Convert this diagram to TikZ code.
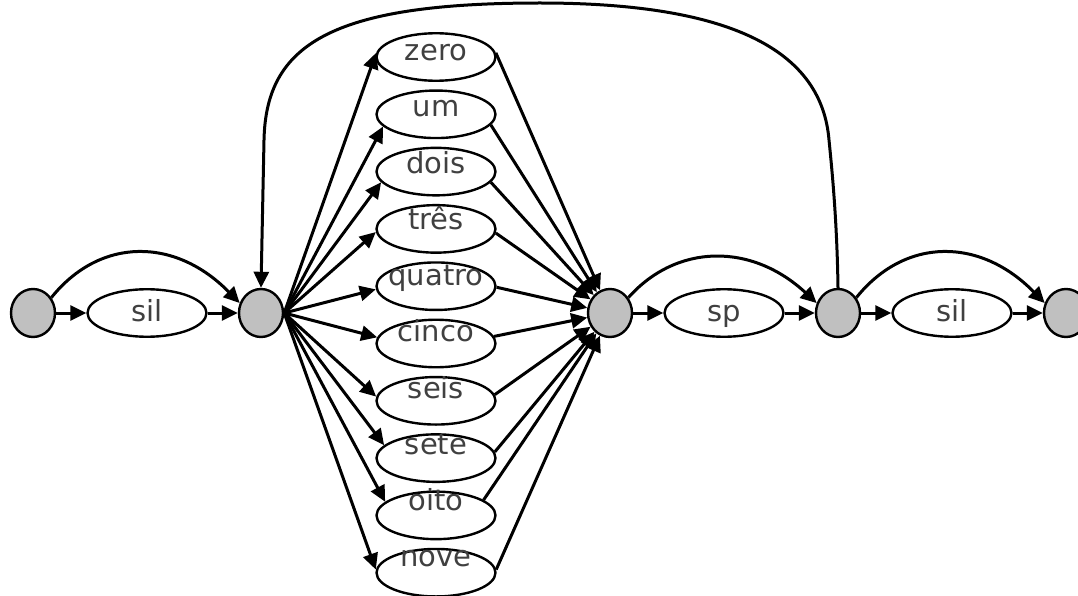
\documentclass[tikz,border=0pt]{standalone}
\usepackage{fontspec}
\setmainfont{DejaVu Sans}
\usetikzlibrary{arrows.meta,shapes.geometric}
\definecolor{txtgray}{RGB}{64,64,64}
\definecolor{nodegray}{RGB}{192,192,192}
\begin{document}
\begin{tikzpicture}[x=1pt,y=-1pt,
  state/.style={ellipse, draw, line width=2.4pt, fill=nodegray, minimum width=44pt, minimum height=48pt, inner sep=0pt},
  word/.style={ellipse, draw, line width=2.4pt, fill=white, minimum width=119pt, minimum height=47.5pt, inner sep=0pt},
  lbl/.style={anchor=base, inner sep=0pt, text=txtgray, font=\fontsize{29}{34}\selectfont},
  edge/.style={line width=3pt, -{Triangle[length=16pt,width=15pt]}}]
\useasboundingbox (0,0) rectangle (1078,596);
% states
\node[state] (c1) at (33,313) {};
\node[state] (c2) at (261,313) {};
\node[state] (c3) at (610,313) {};
\node[state] (c4) at (838,313) {};
\node[state] (c5) at (1066,313) {};
% sil / sp
\node[word] (s1) at (147,313) {};
\node[lbl] (ts1) at (147,321) {sil};
\node[word] (sp) at (724,313) {};
\node[lbl] (tsp) at (724,321) {sp};
\node[word] (s2) at (952,313) {};
\node[lbl] (ts2) at (952,321) {sil};
% straight edges
\draw[edge] (c1) -- (s1);
\draw[edge] (s1) -- (c2);
\draw[edge] (c3) -- (sp);
\draw[edge] (sp) -- (c4);
\draw[edge] (c4) -- (s2);
\draw[edge] (s2) -- (c5);
% skip arcs
\draw[edge] (c1.40) .. controls (100,237) and (175,237) .. (c2.155);
\draw[edge] (c3.40) .. controls (677,243) and (752,243) .. (c4.155);
\draw[edge] (c4.40) .. controls (905,237) and (980,237) .. (c5.155);
% words
\foreach \i/\w/\la/\ra in {0/zero/176/4,1/um/193/349,2/dois/191/349,3/três/183/356,4/quatro/183/359,5/cinco/174/7,6/seis/176/6,7/sete/166/6,8/oito/165/18,9/nove/177/3}{
  \node[word] (w\i) at (436,{57+57.3*\i}) {};
  \node[lbl] (t\i) at (436,{60.7+56.25*\i}) {\w};
  \draw[edge] (c2.east) -- (w\i.\la);
  \draw[edge] (w\i.\ra) -- (c3);
}
% loop back
\coordinate (lp1) at (829,140);
\coordinate (lp2) at (540,3);
\coordinate (lp3) at (264,140);
\draw[edge] (c4.north) .. controls (837,220) and (832,170) .. (lp1) .. controls (822,55) and (740,3) .. (lp2) .. controls (330,3) and (266,45) .. (lp3) -- (c2.north);
\end{tikzpicture}
\end{document}
